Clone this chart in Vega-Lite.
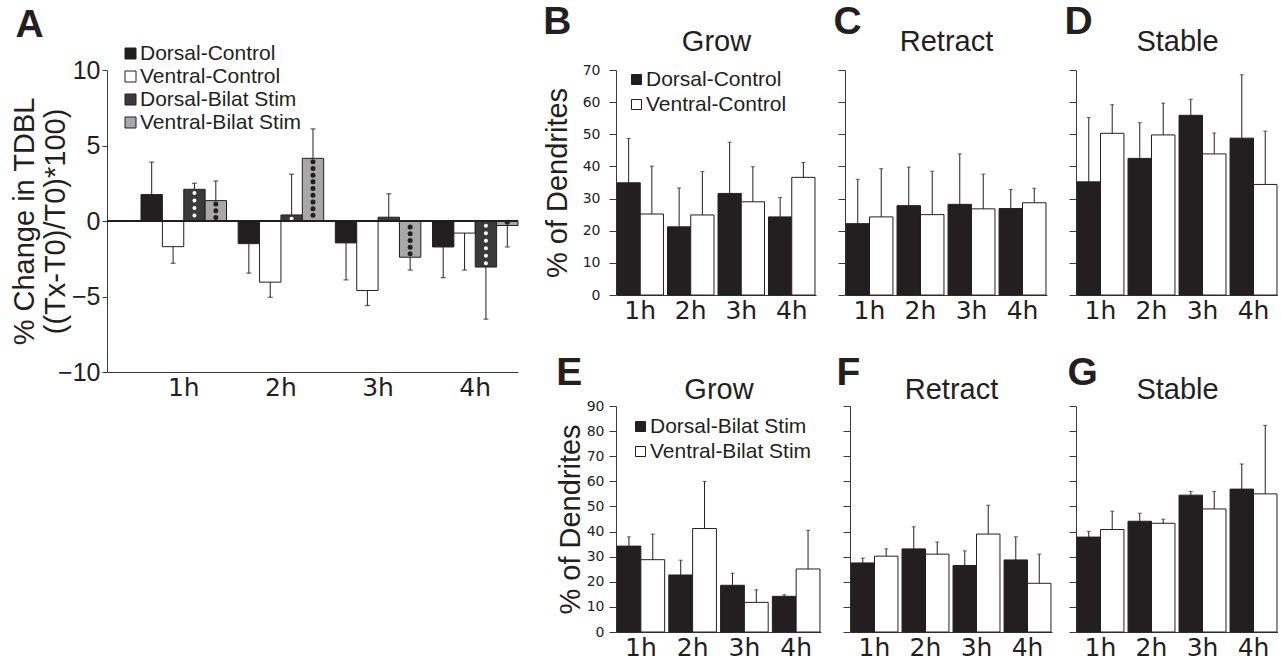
{
  "$schema": "https://vega.github.io/schema/vega-lite/v6.json",
  "padding": {"left": 10, "top": 3, "right": 0, "bottom": 0},
  "datasets": {
    "pa": [
      {"time": "1h", "series": "Dorsal-Control", "value": 1.75, "err": 3.9},
      {"time": "1h", "series": "Ventral-Control", "value": -1.7, "err": -2.8},
      {"time": "1h", "series": "Dorsal-Bilat Stim", "value": 2.1, "err": 2.5},
      {"time": "1h", "series": "Ventral-Bilat Stim", "value": 1.35, "err": 2.65},
      {"time": "2h", "series": "Dorsal-Control", "value": -1.5, "err": -3.45},
      {"time": "2h", "series": "Ventral-Control", "value": -4.05, "err": -5.05},
      {"time": "2h", "series": "Dorsal-Bilat Stim", "value": 0.4, "err": 3.1},
      {"time": "2h", "series": "Ventral-Bilat Stim", "value": 4.15, "err": 6.1},
      {"time": "3h", "series": "Dorsal-Control", "value": -1.45, "err": -3.9},
      {"time": "3h", "series": "Ventral-Control", "value": -4.6, "err": -5.6},
      {"time": "3h", "series": "Dorsal-Bilat Stim", "value": 0.25, "err": 1.8},
      {"time": "3h", "series": "Ventral-Bilat Stim", "value": -2.4, "err": -3.25},
      {"time": "4h", "series": "Dorsal-Control", "value": -1.72, "err": -3.75},
      {"time": "4h", "series": "Ventral-Control", "value": -0.8, "err": -3.25},
      {"time": "4h", "series": "Dorsal-Bilat Stim", "value": -3.05, "err": -6.5},
      {"time": "4h", "series": "Ventral-Bilat Stim", "value": -0.3, "err": -1.72}
    ],
    "ctrl": [
      {"panel": "Grow", "time": "1h", "series": "Dorsal-Control", "value": 34.9, "err": 48.7},
      {"panel": "Grow", "time": "1h", "series": "Ventral-Control", "value": 25.2, "err": 40.1},
      {"panel": "Grow", "time": "2h", "series": "Dorsal-Control", "value": 21.2, "err": 33.3},
      {"panel": "Grow", "time": "2h", "series": "Ventral-Control", "value": 24.9, "err": 38.4},
      {"panel": "Grow", "time": "3h", "series": "Dorsal-Control", "value": 31.6, "err": 47.5},
      {"panel": "Grow", "time": "3h", "series": "Ventral-Control", "value": 29.0, "err": 39.9},
      {"panel": "Grow", "time": "4h", "series": "Dorsal-Control", "value": 24.3, "err": 30.3},
      {"panel": "Grow", "time": "4h", "series": "Ventral-Control", "value": 36.6, "err": 41.2},
      {"panel": "Retract", "time": "1h", "series": "Dorsal-Control", "value": 22.2, "err": 36.0},
      {"panel": "Retract", "time": "1h", "series": "Ventral-Control", "value": 24.3, "err": 39.3},
      {"panel": "Retract", "time": "2h", "series": "Dorsal-Control", "value": 27.8, "err": 39.8},
      {"panel": "Retract", "time": "2h", "series": "Ventral-Control", "value": 25.0, "err": 38.5},
      {"panel": "Retract", "time": "3h", "series": "Dorsal-Control", "value": 28.2, "err": 43.9},
      {"panel": "Retract", "time": "3h", "series": "Ventral-Control", "value": 26.8, "err": 37.6},
      {"panel": "Retract", "time": "4h", "series": "Dorsal-Control", "value": 26.9, "err": 32.8},
      {"panel": "Retract", "time": "4h", "series": "Ventral-Control", "value": 28.7, "err": 33.2},
      {"panel": "Stable", "time": "1h", "series": "Dorsal-Control", "value": 35.2, "err": 55.2},
      {"panel": "Stable", "time": "1h", "series": "Ventral-Control", "value": 50.3, "err": 59.2},
      {"panel": "Stable", "time": "2h", "series": "Dorsal-Control", "value": 42.5, "err": 53.6},
      {"panel": "Stable", "time": "2h", "series": "Ventral-Control", "value": 49.8, "err": 59.7},
      {"panel": "Stable", "time": "3h", "series": "Dorsal-Control", "value": 55.9, "err": 60.9},
      {"panel": "Stable", "time": "3h", "series": "Ventral-Control", "value": 43.9, "err": 50.4},
      {"panel": "Stable", "time": "4h", "series": "Dorsal-Control", "value": 48.8, "err": 68.5},
      {"panel": "Stable", "time": "4h", "series": "Ventral-Control", "value": 34.4, "err": 51.0}
    ],
    "stim": [
      {"panel": "Grow", "time": "1h", "series": "Dorsal-Bilat Stim", "value": 34.2, "err": 37.9},
      {"panel": "Grow", "time": "1h", "series": "Ventral-Bilat Stim", "value": 28.8, "err": 39.0},
      {"panel": "Grow", "time": "2h", "series": "Dorsal-Bilat Stim", "value": 22.7, "err": 28.6},
      {"panel": "Grow", "time": "2h", "series": "Ventral-Bilat Stim", "value": 41.2, "err": 60.0},
      {"panel": "Grow", "time": "3h", "series": "Dorsal-Bilat Stim", "value": 18.6, "err": 23.4},
      {"panel": "Grow", "time": "3h", "series": "Ventral-Bilat Stim", "value": 11.8, "err": 16.8},
      {"panel": "Grow", "time": "4h", "series": "Dorsal-Bilat Stim", "value": 14.2, "err": 14.8},
      {"panel": "Grow", "time": "4h", "series": "Ventral-Bilat Stim", "value": 25.1, "err": 40.5},
      {"panel": "Retract", "time": "1h", "series": "Dorsal-Bilat Stim", "value": 27.5, "err": 29.4},
      {"panel": "Retract", "time": "1h", "series": "Ventral-Bilat Stim", "value": 30.2, "err": 33.1},
      {"panel": "Retract", "time": "2h", "series": "Dorsal-Bilat Stim", "value": 33.1, "err": 41.9},
      {"panel": "Retract", "time": "2h", "series": "Ventral-Bilat Stim", "value": 31.0, "err": 35.8},
      {"panel": "Retract", "time": "3h", "series": "Dorsal-Bilat Stim", "value": 26.5, "err": 32.3},
      {"panel": "Retract", "time": "3h", "series": "Ventral-Bilat Stim", "value": 39.0, "err": 50.5},
      {"panel": "Retract", "time": "4h", "series": "Dorsal-Bilat Stim", "value": 28.7, "err": 37.9},
      {"panel": "Retract", "time": "4h", "series": "Ventral-Bilat Stim", "value": 19.4, "err": 31.0},
      {"panel": "Stable", "time": "1h", "series": "Dorsal-Bilat Stim", "value": 37.8, "err": 40.1},
      {"panel": "Stable", "time": "1h", "series": "Ventral-Bilat Stim", "value": 40.8, "err": 48.1},
      {"panel": "Stable", "time": "2h", "series": "Dorsal-Bilat Stim", "value": 44.1, "err": 47.3},
      {"panel": "Stable", "time": "2h", "series": "Ventral-Bilat Stim", "value": 43.3, "err": 44.9},
      {"panel": "Stable", "time": "3h", "series": "Dorsal-Bilat Stim", "value": 54.5, "err": 56.0},
      {"panel": "Stable", "time": "3h", "series": "Ventral-Bilat Stim", "value": 49.0, "err": 56.0},
      {"panel": "Stable", "time": "4h", "series": "Dorsal-Bilat Stim", "value": 56.9, "err": 66.9},
      {"panel": "Stable", "time": "4h", "series": "Ventral-Bilat Stim", "value": 55.0, "err": 82.3}
    ]
  },
  "spacing": 24,
  "resolve": {"scale": {"fill": "independent", "xOffset": "independent"}, "legend": {"fill": "independent"}},
  "hconcat": [
    {
      "width": 411, "height": 302,
      "title": {"text": "A", "dx": 5, "offset": -2},
      "data": {"name": "pa"},
      "layer": [
        {
          "mark": {"type": "bar", "stroke": "#231f20", "strokeWidth": 1},
          "encoding": {
            "x": {"field": "time", "type": "nominal", "scale": {"paddingInner": 0.12, "paddingOuter": 0.175, "align": 1},
                  "axis": {"title": null, "labelAngle": 0, "ticks": false, "labelFont": "DejaVu Sans", "labelFontSize": 25, "labelPadding": 3}},
            "xOffset": {"field": "series", "type": "nominal", "sort": ["Dorsal-Control", "Ventral-Control", "Dorsal-Bilat Stim", "Ventral-Bilat Stim"], "scale": {"paddingInner": 0, "paddingOuter": 0}},
            "y": {"field": "value", "type": "quantitative", "scale": {"domain": [-10, 10]},
                  "axis": {"values": [-10, -5, 0, 5, 10], "title": ["% Change in TDBL", "((Tx-T0)/T0)*100)"], "titleFontSize": 29, "titleLineHeight": 31, "titlePadding": -13, "labelFontSize": 25, "tickSize": 5, "labelPadding": 2}},
            "fill": {"field": "series", "type": "nominal", "sort": ["Dorsal-Control", "Ventral-Control", "Dorsal-Bilat Stim", "Ventral-Bilat Stim"],
                     "scale": {"domain": ["Dorsal-Control", "Ventral-Control", "Dorsal-Bilat Stim", "Ventral-Bilat Stim"], "range": ["#231f20", "#ffffff", "#3a3a3a", "#a8a8a8"]},
                     "legend": {"orient": "none", "legendX": 13, "legendY": -27, "title": null, "labelFontSize": 21, "labelLimit": 400, "symbolType": "square", "symbolSize": 121, "symbolStrokeColor": "#231f20", "symbolStrokeWidth": 1, "labelOffset": -1, "rowPadding": 1}}
          }
        },
        {"transform": [{"filter": "datum.series === 'Dorsal-Bilat Stim'"}],
         "mark": {"type": "rule", "stroke": "#ffffff", "strokeWidth": 4, "strokeCap": "round", "strokeDash": [0, 7.5], "strokeDashOffset": 3.7},
         "encoding": {"x": {"field": "time", "type": "nominal"}, "xOffset": {"field": "series", "type": "nominal", "sort": ["Dorsal-Control", "Ventral-Control", "Dorsal-Bilat Stim", "Ventral-Bilat Stim"]}, "y": {"field": "value", "type": "quantitative"}, "y2": {"datum": 0}}},
        {"transform": [{"filter": "datum.series === 'Ventral-Bilat Stim'"}],
         "mark": {"type": "rule", "stroke": "#231f20", "strokeWidth": 5, "strokeCap": "round", "strokeDash": [0, 6.7], "strokeDashOffset": 3.3},
         "encoding": {"x": {"field": "time", "type": "nominal"}, "xOffset": {"field": "series", "type": "nominal", "sort": ["Dorsal-Control", "Ventral-Control", "Dorsal-Bilat Stim", "Ventral-Bilat Stim"]}, "y": {"field": "value", "type": "quantitative"}, "y2": {"datum": 0}}},
        {"mark": {"type": "rule", "stroke": "#231f20", "strokeWidth": 1.2}, "encoding": {"y": {"datum": 0, "type": "quantitative"}}},
        {"mark": {"type": "rule", "stroke": "#231f20", "strokeWidth": 1},
         "encoding": {"x": {"field": "time", "type": "nominal"}, "xOffset": {"field": "series", "type": "nominal", "sort": ["Dorsal-Control", "Ventral-Control", "Dorsal-Bilat Stim", "Ventral-Bilat Stim"]}, "y": {"field": "value", "type": "quantitative"}, "y2": {"field": "err"}}},
        {"mark": {"type": "tick", "color": "#231f20", "orient": "horizontal", "size": 5, "thickness": 1.2},
         "encoding": {"x": {"field": "time", "type": "nominal"}, "xOffset": {"field": "series", "type": "nominal", "sort": ["Dorsal-Control", "Ventral-Control", "Dorsal-Bilat Stim", "Ventral-Bilat Stim"]}, "y": {"field": "err", "type": "quantitative"}}}
      ]
    },
    {
      "spacing": 31,
      "resolve": {"scale": {"fill": "independent", "xOffset": "independent"}, "legend": {"fill": "independent"}},
      "vconcat": [
        {
          "spacing": 17,
          "resolve": {"scale": {"fill": "independent", "xOffset": "independent"}, "legend": {"fill": "independent"}},
          "hconcat": [
            {
              "width": 200, "height": 225,
              "title": {"text": "B", "offset": -15},
              "data": {"name": "ctrl"},
              "transform": [{"filter": "datum.panel === 'Grow'"}],
              "encoding": {
                "x": {"field": "time", "type": "nominal", "scale": {"paddingInner": 0.08, "paddingOuter": 0.02}, "axis": {"orient": "bottom", "title": null, "labelAngle": 0, "ticks": false, "labelFont": "DejaVu Sans", "labelFontSize": 25, "labelPadding": 3}},
                "xOffset": {"field": "series", "type": "nominal", "sort": ["Dorsal-Control", "Ventral-Control"], "scale": {"paddingInner": 0, "paddingOuter": 0}},
                "y": {"field": "value", "type": "quantitative", "scale": {"domain": [0, 70]}, "axis": {"values": [0, 10, 20, 30, 40, 50, 60, 70], "title": "% of Dendrites", "titleFontSize": 29, "titlePadding": 10, "labelFont": "DejaVu Sans", "labelFontSize": 14, "tickSize": 7, "labelPadding": 9, "labelOverlap": false}}
              },
              "layer": [
                {"mark": {"type": "bar", "stroke": "#231f20", "strokeWidth": 1},
                 "encoding": {
                   "fill": {"field": "series", "type": "nominal", "sort": ["Dorsal-Control", "Ventral-Control"], "scale": {"domain": ["Dorsal-Control", "Ventral-Control"], "range": ["#231f20", "#ffffff"]},
                            "legend": {"orient": "none", "legendX": 10, "legendY": -1, "title": null, "labelFontSize": 21, "labelLimit": 400, "symbolType": "square", "symbolSize": 100, "symbolStrokeColor": "#231f20", "symbolStrokeWidth": 1, "labelOffset": -1, "rowPadding": 3}}
                 }},
                {"mark": {"type": "rule", "stroke": "#231f20", "strokeWidth": 1},
                 "encoding": {
                   "x": {"field": "time", "type": "nominal", "scale": {"paddingInner": 0.08, "paddingOuter": 0.02}, "axis": {"orient": "top", "title": "Grow", "labels": false, "ticks": false, "domain": false, "titleFontSize": 29, "titlePadding": 14}},
                   "y2": {"field": "err"}}},
                {"mark": {"type": "tick", "color": "#231f20", "orient": "horizontal", "size": 4, "thickness": 1},
                 "encoding": {
                   "x": {"field": "time", "type": "nominal", "scale": {"paddingInner": 0.08, "paddingOuter": 0.02}, "axis": null},
                   "y": {"field": "err", "type": "quantitative", "scale": {"domain": [0, 70]}, "axis": {"values": [0, 10, 20, 30, 40, 50, 60, 70], "title": "% of Dendrites", "titleFontSize": 29, "titlePadding": 10, "labelFont": "DejaVu Sans", "labelFontSize": 14, "tickSize": 7, "labelPadding": 9, "labelOverlap": false}}}}
              ],
              "resolve": {"axis": {"x": "independent"}}
            },
            {
              "width": 202, "height": 225,
              "title": {"text": "C", "offset": -15, "dx": -4},
              "data": {"name": "ctrl"},
              "transform": [{"filter": "datum.panel === 'Retract'"}],
              "encoding": {
                "x": {"field": "time", "type": "nominal", "scale": {"paddingInner": 0.08, "paddingOuter": 0.02}, "axis": {"orient": "bottom", "title": null, "labelAngle": 0, "ticks": false, "labelFont": "DejaVu Sans", "labelFontSize": 25, "labelPadding": 3}},
                "xOffset": {"field": "series", "type": "nominal", "sort": ["Dorsal-Control", "Ventral-Control"], "scale": {"paddingInner": 0, "paddingOuter": 0}},
                "y": {"field": "value", "type": "quantitative", "scale": {"domain": [0, 70]}, "axis": {"values": [0, 10, 20, 30, 40, 50, 60, 70], "title": null, "labels": false, "tickSize": 7}}
              },
              "layer": [
                {"mark": {"type": "bar", "stroke": "#231f20", "strokeWidth": 1},
                 "encoding": {"fill": {"field": "series", "type": "nominal", "sort": ["Dorsal-Control", "Ventral-Control"], "scale": {"domain": ["Dorsal-Control", "Ventral-Control"], "range": ["#231f20", "#ffffff"]}, "legend": null}}},
                {"mark": {"type": "rule", "stroke": "#231f20", "strokeWidth": 1},
                 "encoding": {
                   "x": {"field": "time", "type": "nominal", "scale": {"paddingInner": 0.08, "paddingOuter": 0.02}, "axis": {"orient": "top", "title": "Retract", "labels": false, "ticks": false, "domain": false, "titleFontSize": 29, "titlePadding": 14}},
                   "y2": {"field": "err"}}},
                {"mark": {"type": "tick", "color": "#231f20", "orient": "horizontal", "size": 4, "thickness": 1},
                 "encoding": {
                   "x": {"field": "time", "type": "nominal", "scale": {"paddingInner": 0.08, "paddingOuter": 0.02}, "axis": null},
                   "y": {"field": "err", "type": "quantitative", "scale": {"domain": [0, 70]}, "axis": {"values": [0, 10, 20, 30, 40, 50, 60, 70], "title": null, "labels": false, "tickSize": 7}}}}
              ],
              "resolve": {"axis": {"x": "independent"}}
            },
            {
              "width": 202, "height": 225,
              "title": {"text": "D", "offset": -15, "dx": -4},
              "data": {"name": "ctrl"},
              "transform": [{"filter": "datum.panel === 'Stable'"}],
              "encoding": {
                "x": {"field": "time", "type": "nominal", "scale": {"paddingInner": 0.08, "paddingOuter": 0.02}, "axis": {"orient": "bottom", "title": null, "labelAngle": 0, "ticks": false, "labelFont": "DejaVu Sans", "labelFontSize": 25, "labelPadding": 3}},
                "xOffset": {"field": "series", "type": "nominal", "sort": ["Dorsal-Control", "Ventral-Control"], "scale": {"paddingInner": 0, "paddingOuter": 0}},
                "y": {"field": "value", "type": "quantitative", "scale": {"domain": [0, 70]}, "axis": {"values": [0, 10, 20, 30, 40, 50, 60, 70], "title": null, "labels": false, "tickSize": 7}}
              },
              "layer": [
                {"mark": {"type": "bar", "stroke": "#231f20", "strokeWidth": 1},
                 "encoding": {"fill": {"field": "series", "type": "nominal", "sort": ["Dorsal-Control", "Ventral-Control"], "scale": {"domain": ["Dorsal-Control", "Ventral-Control"], "range": ["#231f20", "#ffffff"]}, "legend": null}}},
                {"mark": {"type": "rule", "stroke": "#231f20", "strokeWidth": 1},
                 "encoding": {
                   "x": {"field": "time", "type": "nominal", "scale": {"paddingInner": 0.08, "paddingOuter": 0.02}, "axis": {"orient": "top", "title": "Stable", "labels": false, "ticks": false, "domain": false, "titleFontSize": 29, "titlePadding": 14}},
                   "y2": {"field": "err"}}},
                {"mark": {"type": "tick", "color": "#231f20", "orient": "horizontal", "size": 4, "thickness": 1},
                 "encoding": {
                   "x": {"field": "time", "type": "nominal", "scale": {"paddingInner": 0.08, "paddingOuter": 0.02}, "axis": null},
                   "y": {"field": "err", "type": "quantitative", "scale": {"domain": [0, 70]}, "axis": {"values": [0, 10, 20, 30, 40, 50, 60, 70], "title": null, "labels": false, "tickSize": 7}}}}
              ],
              "resolve": {"axis": {"x": "independent"}}
            }
          ]
        },
        {
          "spacing": 15,
          "resolve": {"scale": {"fill": "independent", "xOffset": "independent"}, "legend": {"fill": "independent"}},
          "hconcat": [
            {
              "width": 205, "height": 226,
              "title": {"text": "E", "offset": -18},
              "data": {"name": "stim"},
              "transform": [{"filter": "datum.panel === 'Grow'"}],
              "encoding": {
                "x": {"field": "time", "type": "nominal", "scale": {"paddingInner": 0.08, "paddingOuter": 0.02}, "axis": {"orient": "bottom", "title": null, "labelAngle": 0, "ticks": false, "labelFont": "DejaVu Sans", "labelFontSize": 25, "labelPadding": 3}},
                "xOffset": {"field": "series", "type": "nominal", "sort": ["Dorsal-Bilat Stim", "Ventral-Bilat Stim"], "scale": {"paddingInner": 0, "paddingOuter": 0}},
                "y": {"field": "value", "type": "quantitative", "scale": {"domain": [0, 90]}, "axis": {"values": [0, 10, 20, 30, 40, 50, 60, 70, 80, 90], "title": "% of Dendrites", "titleFontSize": 29, "titlePadding": 1, "labelFont": "DejaVu Sans", "labelFontSize": 14, "tickSize": 7, "labelPadding": 5, "labelOverlap": false}}
              },
              "layer": [
                {"mark": {"type": "bar", "stroke": "#231f20", "strokeWidth": 1},
                 "encoding": {
                   "fill": {"field": "series", "type": "nominal", "sort": ["Dorsal-Bilat Stim", "Ventral-Bilat Stim"], "scale": {"domain": ["Dorsal-Bilat Stim", "Ventral-Bilat Stim"], "range": ["#231f20", "#ffffff"]},
                            "legend": {"orient": "none", "legendX": 14, "legendY": 10, "title": null, "labelFontSize": 21, "labelLimit": 400, "symbolType": "square", "symbolSize": 100, "symbolStrokeColor": "#231f20", "symbolStrokeWidth": 1, "labelOffset": -1, "rowPadding": 3}}
                 }},
                {"mark": {"type": "rule", "stroke": "#231f20", "strokeWidth": 1},
                 "encoding": {
                   "x": {"field": "time", "type": "nominal", "scale": {"paddingInner": 0.08, "paddingOuter": 0.02}, "axis": {"orient": "top", "title": "Grow", "labels": false, "ticks": false, "domain": false, "titleFontSize": 29, "titlePadding": 2}},
                   "y2": {"field": "err"}}},
                {"mark": {"type": "tick", "color": "#231f20", "orient": "horizontal", "size": 4, "thickness": 1},
                 "encoding": {
                   "x": {"field": "time", "type": "nominal", "scale": {"paddingInner": 0.08, "paddingOuter": 0.02}, "axis": null},
                   "y": {"field": "err", "type": "quantitative", "scale": {"domain": [0, 90]}, "axis": {"values": [0, 10, 20, 30, 40, 50, 60, 70, 80, 90], "title": "% of Dendrites", "titleFontSize": 29, "titlePadding": 1, "labelFont": "DejaVu Sans", "labelFontSize": 14, "tickSize": 7, "labelPadding": 5, "labelOverlap": false}}}}
              ],
              "resolve": {"axis": {"x": "independent"}}
            },
            {
              "width": 202, "height": 226,
              "title": {"text": "F", "offset": -18, "dx": -6},
              "data": {"name": "stim"},
              "transform": [{"filter": "datum.panel === 'Retract'"}],
              "encoding": {
                "x": {"field": "time", "type": "nominal", "scale": {"paddingInner": 0.08, "paddingOuter": 0.02}, "axis": {"orient": "bottom", "title": null, "labelAngle": 0, "ticks": false, "labelFont": "DejaVu Sans", "labelFontSize": 25, "labelPadding": 3}},
                "xOffset": {"field": "series", "type": "nominal", "sort": ["Dorsal-Bilat Stim", "Ventral-Bilat Stim"], "scale": {"paddingInner": 0, "paddingOuter": 0}},
                "y": {"field": "value", "type": "quantitative", "scale": {"domain": [0, 90]}, "axis": {"values": [0, 10, 20, 30, 40, 50, 60, 70, 80, 90], "title": null, "labels": false, "tickSize": 7}}
              },
              "layer": [
                {"mark": {"type": "bar", "stroke": "#231f20", "strokeWidth": 1},
                 "encoding": {"fill": {"field": "series", "type": "nominal", "sort": ["Dorsal-Bilat Stim", "Ventral-Bilat Stim"], "scale": {"domain": ["Dorsal-Bilat Stim", "Ventral-Bilat Stim"], "range": ["#231f20", "#ffffff"]}, "legend": null}}},
                {"mark": {"type": "rule", "stroke": "#231f20", "strokeWidth": 1},
                 "encoding": {
                   "x": {"field": "time", "type": "nominal", "scale": {"paddingInner": 0.08, "paddingOuter": 0.02}, "axis": {"orient": "top", "title": "Retract", "labels": false, "ticks": false, "domain": false, "titleFontSize": 29, "titlePadding": 2}},
                   "y2": {"field": "err"}}},
                {"mark": {"type": "tick", "color": "#231f20", "orient": "horizontal", "size": 4, "thickness": 1},
                 "encoding": {
                   "x": {"field": "time", "type": "nominal", "scale": {"paddingInner": 0.08, "paddingOuter": 0.02}, "axis": null},
                   "y": {"field": "err", "type": "quantitative", "scale": {"domain": [0, 90]}, "axis": {"values": [0, 10, 20, 30, 40, 50, 60, 70, 80, 90], "title": null, "labels": false, "tickSize": 7}}}}
              ],
              "resolve": {"axis": {"x": "independent"}}
            },
            {
              "width": 202, "height": 226,
              "title": {"text": "G", "offset": -18, "dx": -1},
              "data": {"name": "stim"},
              "transform": [{"filter": "datum.panel === 'Stable'"}],
              "encoding": {
                "x": {"field": "time", "type": "nominal", "scale": {"paddingInner": 0.08, "paddingOuter": 0.02}, "axis": {"orient": "bottom", "title": null, "labelAngle": 0, "ticks": false, "labelFont": "DejaVu Sans", "labelFontSize": 25, "labelPadding": 3}},
                "xOffset": {"field": "series", "type": "nominal", "sort": ["Dorsal-Bilat Stim", "Ventral-Bilat Stim"], "scale": {"paddingInner": 0, "paddingOuter": 0}},
                "y": {"field": "value", "type": "quantitative", "scale": {"domain": [0, 90]}, "axis": {"values": [0, 10, 20, 30, 40, 50, 60, 70, 80, 90], "title": null, "labels": false, "tickSize": 7}}
              },
              "layer": [
                {"mark": {"type": "bar", "stroke": "#231f20", "strokeWidth": 1},
                 "encoding": {"fill": {"field": "series", "type": "nominal", "sort": ["Dorsal-Bilat Stim", "Ventral-Bilat Stim"], "scale": {"domain": ["Dorsal-Bilat Stim", "Ventral-Bilat Stim"], "range": ["#231f20", "#ffffff"]}, "legend": null}}},
                {"mark": {"type": "rule", "stroke": "#231f20", "strokeWidth": 1},
                 "encoding": {
                   "x": {"field": "time", "type": "nominal", "scale": {"paddingInner": 0.08, "paddingOuter": 0.02}, "axis": {"orient": "top", "title": "Stable", "labels": false, "ticks": false, "domain": false, "titleFontSize": 29, "titlePadding": 2}},
                   "y2": {"field": "err"}}},
                {"mark": {"type": "tick", "color": "#231f20", "orient": "horizontal", "size": 4, "thickness": 1},
                 "encoding": {
                   "x": {"field": "time", "type": "nominal", "scale": {"paddingInner": 0.08, "paddingOuter": 0.02}, "axis": null},
                   "y": {"field": "err", "type": "quantitative", "scale": {"domain": [0, 90]}, "axis": {"values": [0, 10, 20, 30, 40, 50, 60, 70, 80, 90], "title": null, "labels": false, "tickSize": 7}}}}
              ],
              "resolve": {"axis": {"x": "independent"}}
            }
          ]
        }
      ]
    }
  ],
  "config": {
    "font": "Liberation Sans",
    "view": {"stroke": null},
    "axis": {"grid": false, "domainColor": "#3a3a3a", "tickColor": "#3a3a3a", "labelColor": "#231f20", "titleColor": "#231f20", "titleFontWeight": "normal", "titleFont": "Liberation Sans"},
    "legend": {"labelColor": "#231f20", "labelFont": "Liberation Sans"},
    "title": {"anchor": "start", "frame": "bounds", "fontSize": 39, "fontWeight": "bold", "color": "#231f20", "font": "Liberation Sans"}
  }
}
